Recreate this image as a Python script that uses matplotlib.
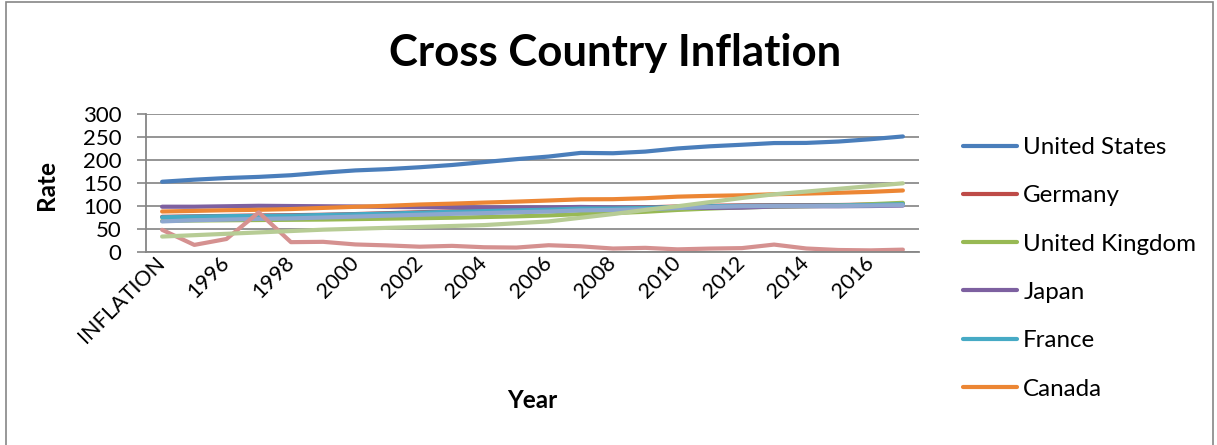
import matplotlib
matplotlib.use("Agg")
import matplotlib.pyplot as plt
from matplotlib.lines import Line2D
from matplotlib.patches import Rectangle

plt.rcParams['font.family'] = ['Lato', 'DejaVu Sans']

categories = ["INFLATION", "1995", "1996", "1997", "1998", "1999", "2000", "2001",
              "2002", "2003", "2004", "2005", "2006", "2007", "2008", "2009",
              "2010", "2011", "2012", "2013", "2014", "2015", "2016", "2017"]

united_states = [152.4, 156.9, 160.5, 163.0, 166.6, 172.2, 177.1, 179.9, 184.0, 188.9,
                 195.3, 201.6, 207.3, 215.3, 214.5, 218.1, 224.9, 229.6, 233.0, 236.7,
                 237.0, 240.0, 245.1, 251.1]
germany = [76, 77, 78, 79, 79.5, 80.5, 82, 84, 86, 88, 89.5, 91, 92.5, 95, 95, 96.5,
           98.5, 100, 101, 101.5, 101.5, 101.7, 102.7, 104.5]
united_kingdom = [67, 68, 68.5, 69, 69.5, 70, 71, 72, 73, 74, 75.5, 77, 79, 82, 84, 87,
                  91, 94, 96.5, 98, 99, 100.5, 103.5, 106.5]
japan = [98, 98, 99, 100, 99.5, 99, 98.5, 97.5, 97, 97, 96.5, 96.5, 96.5, 97.5, 96.5,
         96, 95.5, 95.5, 96, 98.5, 99, 99, 99.5, 100.5]
france = [75, 76.5, 77.5, 78, 78.5, 80, 81.5, 83, 85, 87, 88.5, 90, 91.5, 94, 94, 95.5,
          97.5, 99, 100, 100.5, 100.5, 100.7, 101.7, 103.5]
canada = [87.6, 88.9, 90.4, 91.3, 92.9, 95.4, 97.8, 100.0, 102.8, 104.7, 107.0, 109.1,
          111.5, 114.1, 114.4, 116.5, 119.9, 121.7, 122.8, 125.2, 126.6, 128.4, 130.4, 133.4]
italy = [66, 68.5, 70, 71.5, 72.5, 74.5, 76.5, 78.5, 80.5, 82.5, 84, 86, 87.5, 90, 91,
         92.5, 95, 97.5, 99, 99.5, 99.5, 99.5, 100.5, 101.5]
russia = [47.7, 14.8, 27.7, 85.7, 20.8, 21.5, 15.8, 13.7, 10.9, 12.7, 9.7, 9.0, 14.1,
          11.7, 6.9, 8.4, 5.1, 6.8, 7.8, 15.5, 7.0, 3.7, 2.9, 4.5]
india = [33, 36, 39, 42, 45, 48, 50, 52, 54, 56, 58, 62, 66, 74, 82, 91, 99, 108, 117,
         125, 131, 137, 143, 149]

series = [
    ("United States", united_states, '#4A7EBB'),
    ("Germany", germany, '#BE4B48'),
    ("United Kingdom", united_kingdom, '#98B954'),
    ("Japan", japan, '#7D60A0'),
    ("France", france, '#46AAC5'),
    ("Canada", canada, '#EC8634'),
    ("Italy", italy, '#8EA7CF'),
    ("Russia", russia, '#D59190'),
    ("India", india, '#B7CC95'),
]

fig = plt.figure(figsize=(12.17, 4.45), dpi=100)
ax = fig.add_axes([146 / 1217, 1 - 251.7 / 445, (919 - 146) / 1217, 137.7 / 445])

x = list(range(len(categories)))
for name, vals, col in series:
    ax.plot(x, vals, color=col, lw=3, solid_capstyle='round', label=name)

ax.set_xlim(-0.5, len(categories) - 0.5)
ax.set_ylim(0, 300)
ax.set_yticks(range(0, 301, 50))
# only every other category gets a label
ax.set_xticks(x[::2])
ax.set_xticklabels(categories[::2], rotation=45, ha='right', va='center',
                   rotation_mode='anchor', fontsize=15.5)
ax.tick_params(axis='y', labelsize=16, length=6.5, width=1.2, color='#868686', pad=11)
ax.tick_params(axis='x', length=0, pad=6)
ax.grid(axis='y', color='#8c8c8c', lw=1.3)
ax.set_axisbelow(True)
for s in ['top', 'right']:
    ax.spines[s].set_visible(False)
ax.spines['left'].set_color('#868686')
ax.spines['bottom'].set_color('#868686')
ax.spines['left'].set_linewidth(1.3)
ax.spines['bottom'].set_linewidth(1.3)

ax.set_ylabel("Rate", fontsize=17.5, fontweight='bold')
ax.yaxis.set_label_coords(-0.114, 0.485)
ax.set_xlabel("Year", fontsize=17.5, fontweight='bold')
ax.xaxis.set_label_coords(0.4995, -1.0)

fig.text(615 / 1217, 1 - 53 / 445, "Cross Country Inflation", ha='center', va='center',
         fontsize=31.5, fontweight='bold')

# legend box only has room for the first six series
handles = [Line2D([], [], color=col, lw=3, solid_capstyle='round') for _, _, col in series[:6]]
labels = [name for name, _, _ in series[:6]]
fig.legend(handles, labels, loc='upper left', bbox_to_anchor=(963 / 1217, 1 - 137 / 445),
           frameon=False, fontsize=17.4, handlelength=2.24, handletextpad=0.25,
           labelspacing=1.13, borderpad=0, borderaxespad=0)

fig.patches.append(Rectangle((6 / 1217, -0.1), (1213 - 6) / 1217, 1.1 - 2 / 445,
                             transform=fig.transFigure, fill=False, ec='#868686', lw=1.2))

fig.savefig("out.png", dpi=100)
